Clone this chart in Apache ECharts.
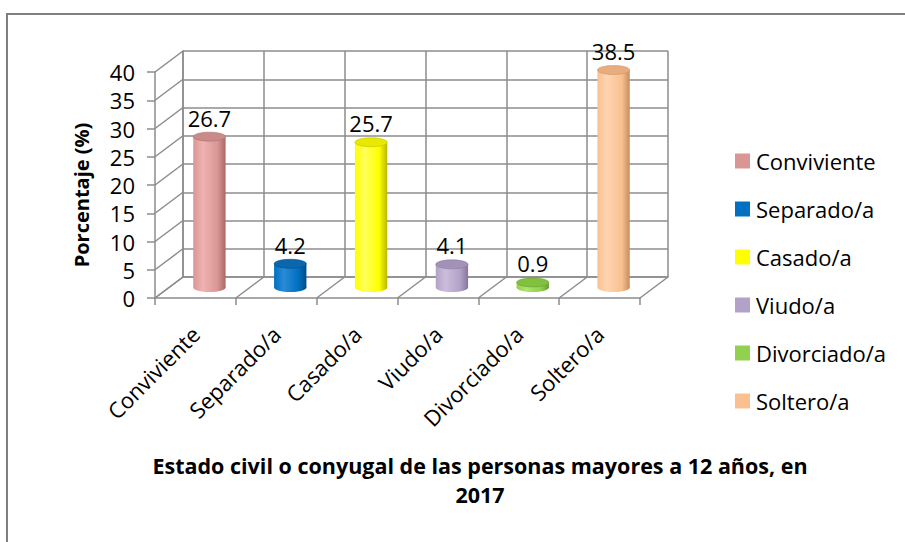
<!DOCTYPE html>
<html><head><meta charset="utf-8">
<script src="https://cdn.jsdelivr.net/npm/echarts@6/dist/echarts.min.js"></script>
<style>html,body{margin:0;padding:0;background:#fff}#c{width:905px;height:542px}</style>
</head><body><div id="c"></div>
<script>
const categories = ['Conviviente', 'Separado/a', 'Casado/a', 'Viudo/a', 'Divorciado/a', 'Soltero/a'];
const values = [26.7, 4.2, 25.7, 4.1, 0.9, 38.5];
const yTicks = [0, 5, 10, 15, 20, 25, 30, 35, 40];

// styles
const FONT = 'Open Sans';
const GRID_COLOR = '#8c8c8c';
const DX = 28, DY = -21;
const palette = [
  { base: '#d99694', dark: '#a86866', light: '#efb3b1', top: '#c98b89' },
  { base: '#0070c0', dark: '#004c85', light: '#2a8ad6', top: '#0a66ad' },
  { base: '#ffff00', dark: '#b8b800', light: '#ffff5a', top: '#e8e800' },
  { base: '#b3a2c7', dark: '#86769a', light: '#cbbcdd', top: '#a392b8' },
  { base: '#92d050', dark: '#669b30', light: '#ace46e', top: '#82c040' },
  { base: '#fac090', dark: '#c58e60', light: '#ffd4b0', top: '#e8ad7e' }
];

function grad(p) {
  return new echarts.graphic.LinearGradient(0, 0, 1, 0, [
    { offset: 0, color: p.base },
    { offset: 0.3, color: p.light },
    { offset: 0.75, color: p.base },
    { offset: 1, color: p.dark }
  ]);
}

const chart = echarts.init(document.getElementById('c'), null, { renderer: 'svg' });

const barSeries = categories.map((name, i) => ({
  name: name,
  type: 'custom',
  xAxisIndex: 2, yAxisIndex: 2,
  coordinateSystem: 'cartesian2d',
  itemStyle: { color: palette[i].base },
  z: 5,
  clip: false,
  data: [[i, values[i]]],
  renderItem: function (params, api) {
    const idx = api.value(0), v = api.value(1);
    const top = api.coord([idx, v]);
    const bot = api.coord([idx, 0]);
    const w = api.size([1, 0])[0] * 0.40;
    const rx = w / 2, ry = 4.5;
    const p = palette[idx];
    return {
      type: 'group',
      children: [
        { type: 'ellipse', shape: { cx: bot[0], cy: bot[1], rx: rx, ry: ry }, style: { fill: grad(p) } },
        { type: 'rect', shape: { x: bot[0] - rx, y: top[1], width: w, height: bot[1] - top[1] }, style: { fill: grad(p) } },
        { type: 'ellipse', shape: { cx: top[0], cy: top[1], rx: rx, ry: ry }, style: { fill: p.top, stroke: p.dark, lineWidth: 0.5 } },
        { type: 'text', x: top[0], y: top[1] - 19, style: { text: String(v), fill: '#000', font: '22px "' + FONT + '"', align: 'center', verticalAlign: 'middle' } }
      ]
    };
  }
}));

const sideWall = {
  type: 'custom', silent: true, xAxisIndex: 0, yAxisIndex: 0, z: 1, clip: false,
  data: yTicks.map(v => [0, v]),
  renderItem: function (params, api) {
    const p = api.coord([0, api.value(1)]);
    const bw = api.size([1, 0])[0];
    const x0 = p[0] - bw / 2;
    return { type: 'line', shape: { x1: x0, y1: p[1], x2: x0 + DX, y2: p[1] + DY }, style: { stroke: GRID_COLOR, lineWidth: 1.5 } };
  }
};

const floor = {
  type: 'custom', silent: true, xAxisIndex: 0, yAxisIndex: 0, z: 1, clip: false,
  data: categories.map((c, i) => [i, 0]),
  renderItem: function (params, api) {
    const i = api.value(0);
    const p = api.coord([i, 0]);
    const bw = api.size([1, 0])[0];
    const children = [];
    const xs = [p[0] - bw / 2];
    if (i === categories.length - 1) xs.push(p[0] + bw / 2);
    xs.forEach(x => children.push({ type: 'line', shape: { x1: x, y1: p[1], x2: x + DX, y2: p[1] + DY }, style: { stroke: GRID_COLOR, lineWidth: 1.5 } }));
    return { type: 'group', children: children };
  }
};

const lineStyle = { color: GRID_COLOR, width: 1.5 };

chart.setOption({
  animation: false,
  textStyle: { fontFamily: FONT },
  title: {
    text: 'Estado civil o conyugal de las personas mayores a 12 años, en\n2017',
    left: 475, top: 446, textAlign: 'center',
    textStyle: { fontFamily: FONT, fontWeight: 'bold', fontSize: 21.5, lineHeight: 29, color: '#000' }
  },
  legend: {
    data: categories,
    orient: 'vertical', left: 730, top: 145,
    icon: 'rect', itemWidth: 15, itemHeight: 15, itemGap: 26,
    textStyle: { fontFamily: FONT, fontSize: 22, color: '#000', padding: [0, 0, 0, 1] }
  },
  graphic: [
    { type: 'rect', shape: { x: 7, y: 14, width: 950, height: 600 }, style: { fill: 'none', stroke: '#7f7f7f', lineWidth: 2 }, z: -1 }
  ],
  grid: [
    { left: 155, top: 72, width: 485, height: 226 },
    { left: 183, top: 51, width: 485, height: 226 },
    { left: 169, top: 61.5, width: 485, height: 226 }
  ],
  xAxis: [
    { gridIndex: 0, type: 'category', data: categories,
      axisLine: { show: true, lineStyle: lineStyle },
      axisTick: { show: true, length: 7, lineStyle: lineStyle },
      axisLabel: { rotate: 45, fontSize: 22, color: '#000', margin: 32, interval: 0, fontFamily: FONT },
      splitLine: { show: false } },
    { gridIndex: 1, type: 'category', data: categories,
      axisLine: { show: true, lineStyle: lineStyle },
      axisTick: { show: false }, axisLabel: { show: false },
      splitLine: { show: true, interval: 0, lineStyle: lineStyle } },
    { gridIndex: 2, type: 'category', data: categories, show: false }
  ],
  yAxis: [
    { gridIndex: 0, type: 'value', min: 0, max: 40, interval: 5,
      name: 'Porcentaje (%)', nameLocation: 'middle', nameGap: 64,
      nameTextStyle: { fontFamily: FONT, fontWeight: 'bold', fontSize: 20, color: '#000', padding: [0, 20, 0, 0] },
      axisLine: { show: true, lineStyle: lineStyle },
      axisTick: { show: true, length: 8, lineStyle: lineStyle },
      axisLabel: { fontSize: 22, color: '#000', margin: 20, fontFamily: FONT },
      splitLine: { show: false } },
    { gridIndex: 1, type: 'value', min: 0, max: 40, interval: 5,
      axisLine: { show: true, lineStyle: lineStyle },
      axisTick: { show: false }, axisLabel: { show: false },
      splitLine: { show: true, lineStyle: lineStyle } },
    { gridIndex: 2, type: 'value', min: 0, max: 40, interval: 5, show: false }
  ],
  series: [sideWall, floor].concat(barSeries)
});
</script>
</body></html>
